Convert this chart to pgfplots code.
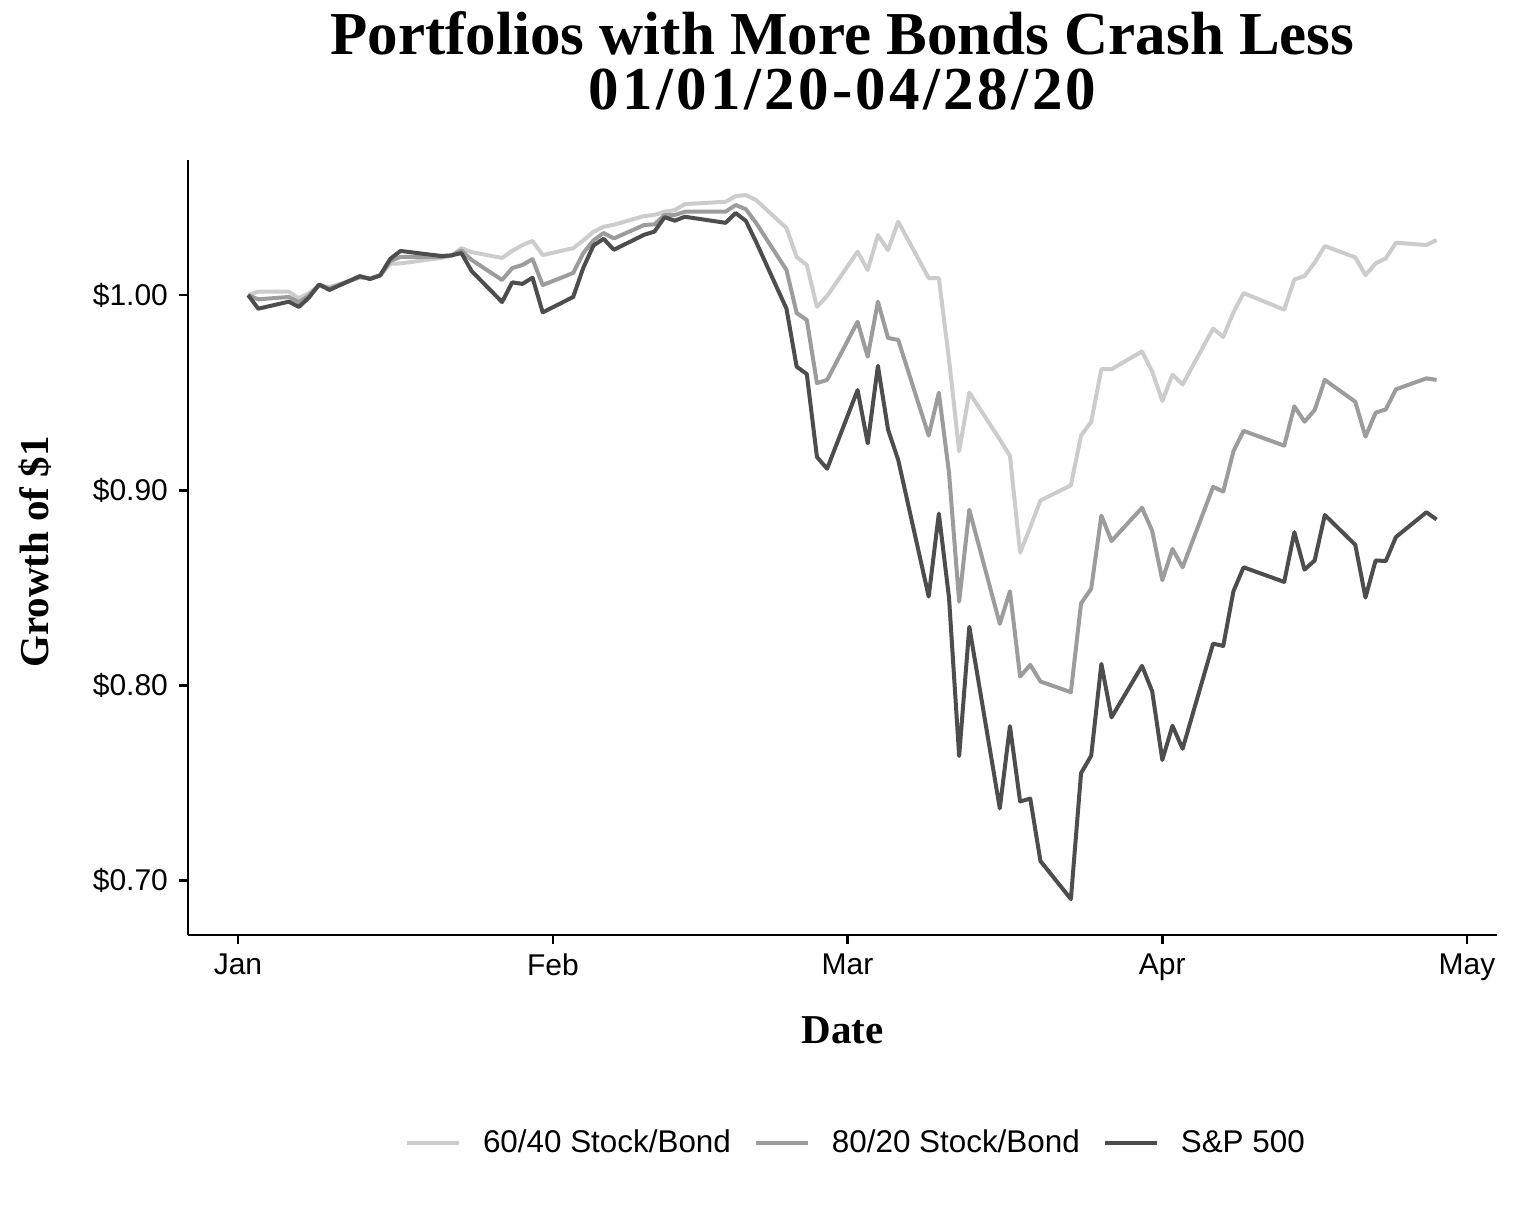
\documentclass[border=0pt]{standalone}
\usepackage{fontspec}
\setmainfont{Liberation Sans}
\newfontfamily\titlefont{Liberation Serif}
\newfontfamily\titlefontsp{Liberation Serif}[LetterSpace=5.5]
\usepackage{pgfplots}
\usepackage{pgfplotstable}
\pgfplotsset{compat=1.18}
\definecolor{c60}{HTML}{CCCCCC}
\definecolor{c80}{HTML}{9C9C9C}
\definecolor{csp}{HTML}{4D4D4D}

\pgfplotstableread{
day p60 p80 sp
1 1.0000 1.0000 1.0000
2 1.0017 0.9978 0.9930
5 1.0017 0.9990 0.9966
6 0.9983 0.9963 0.9939
7 1.0010 0.9998 0.9988
8 1.0050 1.0052 1.0054
9 1.0040 1.0032 1.0026
12 1.0090 1.0092 1.0097
13 1.0085 1.0085 1.0082
14 1.0100 1.0100 1.0101
15 1.0160 1.0175 1.0186
16 1.0162 1.0195 1.0226
20 1.0190 1.0195 1.0200
21 1.0200 1.0203 1.0203
22 1.0240 1.0228 1.0215
23 1.0220 1.0180 1.0123
26 1.0190 1.0077 0.9964
27 1.0226 1.0138 1.0065
28 1.0256 1.0154 1.0057
29 1.0277 1.0184 1.0089
30 1.0205 1.0051 0.9911
33 1.0240 1.0113 0.9990
34 1.0280 1.0215 1.0140
35 1.0324 1.0280 1.0254
36 1.0350 1.0318 1.0288
37 1.0360 1.0290 1.0232
40 1.0405 1.0359 1.0309
41 1.0410 1.0362 1.0325
42 1.0427 1.0410 1.0399
43 1.0435 1.0410 1.0381
44 1.0466 1.0427 1.0401
48 1.0478 1.0427 1.0370
49 1.0507 1.0461 1.0420
50 1.0512 1.0440 1.0380
51 1.0487 1.0370 1.0273
54 1.0343 1.0128 0.9930
55 1.0195 0.9908 0.9633
56 1.0154 0.9872 0.9595
57 0.9940 0.9549 0.9170
58 0.9995 0.9565 0.9110
61 1.0222 0.9863 0.9513
62 1.0128 0.9684 0.9240
63 1.0307 0.9966 0.9637
64 1.0230 0.9780 0.9310
65 1.0376 0.9770 0.9155
68 1.0087 0.9280 0.8455
69 1.0087 0.9500 0.8880
70 0.9670 0.9090 0.8450
71 0.9200 0.8429 0.7638
72 0.9500 0.8900 0.8300
75 0.9260 0.8315 0.7370
76 0.9176 0.8482 0.7791
77 0.8680 0.8045 0.7405
78 0.8810 0.8105 0.7420
79 0.8947 0.8020 0.7100
82 0.9025 0.7965 0.6905
83 0.9280 0.8420 0.7550
84 0.9350 0.8495 0.7640
85 0.9620 0.8870 0.8110
86 0.9620 0.8740 0.7836
89 0.9711 0.8910 0.8100
90 0.9608 0.8792 0.7970
91 0.9457 0.8539 0.7618
92 0.9592 0.8699 0.7793
93 0.9542 0.8605 0.7675
96 0.9828 0.9017 0.8214
97 0.9785 0.8993 0.8202
98 0.9911 0.9199 0.8482
99 1.0010 0.9304 0.8605
103 0.9925 0.9228 0.8530
104 1.0080 0.9430 0.8785
105 1.0097 0.9351 0.8593
106 1.0166 0.9411 0.8640
107 1.0251 0.9565 0.8873
110 1.0193 0.9453 0.8720
111 1.0102 0.9274 0.8450
112 1.0162 0.9397 0.8640
113 1.0188 0.9414 0.8637
114 1.0268 0.9517 0.8760
117 1.0256 0.9573 0.8887
118 1.0282 0.9565 0.8850
}\data

\begin{document}
\begin{tikzpicture}
\path[use as bounding box] (0,0) rectangle (758pt,606.5pt);
\begin{axis}[
  at={(94pt,139pt)}, anchor=south west,
  width=654.5pt, height=387.5pt, scale only axis,
  xmin=-4.92, xmax=123.95, ymin=0.6721, ymax=1.0692,
  axis lines=left, axis line style={-, line width=1.3pt, black},
  tick align=outside, major tick length=4.5pt,
  tick style={line width=1.3pt, black},
  xtick={0,31,60,91,121}, xticklabels={Jan,Feb,Mar,Apr,May},
  ytick={0.7,0.8,0.9,1.0}, yticklabels={\$0.70,\$0.80,\$0.90,\$1.00},
  ticklabel style={font=\fontsize{15}{18}\selectfont, text=black},
  xticklabel style={yshift=-1.5pt},
  yticklabel style={xshift=-2pt},
  legend style={at={(0.511,-0.2684)}, anchor=center, draw=none, fill=none,
    legend columns=3, font=\fontsize{15.7}{18}\selectfont,
    /tikz/every odd column/.style={column sep=9pt},
    /tikz/every even column/.style={column sep=9.5pt}},
  legend cell align=left,
  legend image code/.code={\draw[#1] (0pt,0pt) -- (26pt,0pt);},
  clip=false,
]
\addplot[c60, line width=2pt, line join=round] table[x=day,y=p60]{\data};
\addlegendentry{60/40 Stock/Bond}
\addplot[c80, line width=2pt, line join=round] table[x=day,y=p80]{\data};
\addlegendentry{80/20 Stock/Bond}
\addplot[csp, line width=2pt, line join=round] table[x=day,y=sp]{\data};
\addlegendentry{S\&P 500}
\end{axis}
\node[font=\titlefont\bfseries\fontsize{30.5}{36}\selectfont, anchor=base] at (421.25pt,579pt) {Portfolios with More Bonds Crash Less};
\node[font=\titlefontsp\bfseries\fontsize{30.5}{36}\selectfont, anchor=base] at (421.25pt,551.5pt) {01/01/20-04/28/20};
\node[font=\titlefont\bfseries\fontsize{20.5}{24}\selectfont, rotate=90, anchor=center] at (17.5pt,330.5pt) {Growth of \$1};
\node[font=\titlefont\bfseries\fontsize{20.5}{24}\selectfont, anchor=center] at (421.25pt,91.5pt) {Date};
\end{tikzpicture}
\end{document}
